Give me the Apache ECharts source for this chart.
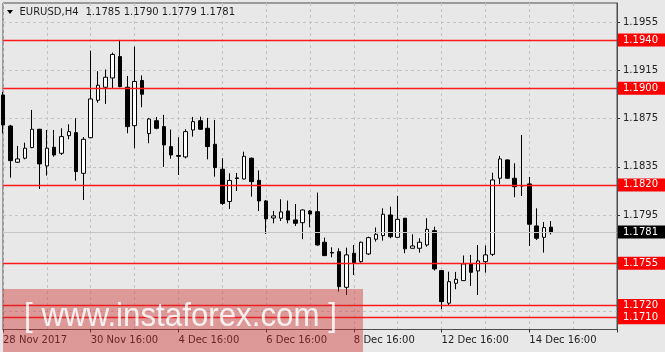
<!DOCTYPE html>
<html>
<head>
<meta charset="utf-8">
<script src="https://cdn.jsdelivr.net/npm/echarts@6.0.0/dist/echarts.min.js"></script>
<style>
html,body{margin:0;padding:0;background:#e8e8e8;}
#chart{width:665px;height:352px;}
</style>
</head>
<body>
<div id="chart"></div>
<script>
// ---------------- data ----------------
const symbolTitle = 'EURUSD,H4';
const lastQuote = [1.1785, 1.1790, 1.1779, 1.1781]; // O H L C of last bar
const xTickLabels = ['28 Nov 2017', '30 Nov 16:00', '4 Dec 16:00', '6 Dec 16:00', '8 Dec 16:00', '12 Dec 16:00', '14 Dec 16:00'];
const yTickValues = [1.1715, 1.1755, 1.1795, 1.1835, 1.1875, 1.1915, 1.1955];
const levels = [1.1940, 1.1900, 1.1820, 1.1755, 1.1720, 1.1710];
const slotCount = 85; // bars + empty chart shift on the right

const opens = [
1.18945,1.18688,1.18388,1.18421,1.18509,1.18661,1.18357,1.18512,1.18462,1.18608,
1.18633,1.18296,1.18591,1.18901,1.19009,1.19086,1.19263,1.19009,1.18691,1.19065,
1.18625,1.18732,1.18683,1.18517,1.18444,1.18432,1.18655,1.18732,1.18669,1.18537,
1.18330,1.18063,1.18258,1.18249,1.18421,1.18238,1.18067,1.17926,1.17924,1.17984,
1.17910,1.17887,1.17984,1.17978,1.17725,1.17640,1.17647,1.17352,1.17634,1.17564,
1.17628,1.17750,1.17780,1.17951,1.17766,1.17924,1.17675,1.17675,1.17702,1.17821,
1.17490,1.17220,1.17385,1.17407,1.17545,1.17487,1.17564,1.17625,1.18255,1.18407,
1.18255,1.18195,1.18208,1.17860,1.17766,1.17850
];
const highs = [
1.18970,1.18697,1.18523,1.18550,1.18821,1.18664,1.18655,1.18655,1.18669,1.18702,
1.18752,1.18597,1.19312,1.19142,1.19156,1.19296,1.19401,1.19103,1.19345,1.19107,
1.18755,1.18763,1.18780,1.18659,1.18595,1.18661,1.18763,1.18765,1.18755,1.18738,
1.18421,1.18296,1.18299,1.18475,1.18427,1.18320,1.18075,1.17984,1.18081,1.18070,
1.18042,1.17997,1.17992,1.18136,1.17763,1.17683,1.17675,1.17680,1.17702,1.17730,
1.17771,1.17847,1.18006,1.18020,1.18108,1.17926,1.17791,1.17758,1.17924,1.17854,
1.17495,1.17481,1.17479,1.17615,1.17620,1.17702,1.17698,1.18301,1.18440,1.18411,
1.18379,1.18614,1.18266,1.18006,1.17893,1.17900
];
const lows = [
1.18628,1.18260,1.18382,1.18412,1.18504,1.18166,1.18277,1.18434,1.18448,1.18578,
1.18235,1.18075,1.18586,1.18881,1.18871,1.19003,1.19009,1.18628,1.18504,1.18843,
1.18545,1.18661,1.18349,1.18417,1.18282,1.18420,1.18600,1.18655,1.18412,1.18268,
1.18034,1.18001,1.18150,1.18245,1.18103,1.17984,1.17794,1.17882,1.17901,1.17882,
1.17860,1.17750,1.17849,1.17697,1.17611,1.17600,1.17316,1.17288,1.17454,1.17556,
1.17620,1.17730,1.17738,1.17758,1.17765,1.17634,1.17673,1.17639,1.17688,1.17490,
1.17170,1.17205,1.17335,1.17404,1.17363,1.17288,1.17473,1.17611,1.18205,1.18252,
1.18098,1.18108,1.17694,1.17744,1.17639,1.17790
];
const closes = [
1.18697,1.18401,1.18415,1.18504,1.18661,1.18374,1.18504,1.18448,1.18600,1.18641,
1.18310,1.18578,1.18912,1.19026,1.19092,1.19281,1.19014,1.18683,1.19057,1.18951,
1.18746,1.18669,1.18531,1.18448,1.18437,1.18641,1.18724,1.18661,1.18517,1.18343,
1.18046,1.18237,1.18253,1.18437,1.18227,1.18067,1.17918,1.17943,1.17976,1.17910,
1.17882,1.17992,1.17959,1.17702,1.17614,1.17636,1.17357,1.17620,1.17556,1.17725,
1.17763,1.17791,1.17957,1.17771,1.17915,1.17670,1.17694,1.17725,1.17832,1.17504,
1.17233,1.17398,1.17418,1.17545,1.17476,1.17570,1.17620,1.18241,1.18415,1.18255,
1.18185,1.18191,1.17874,1.17758,1.17846,1.17810
];

// ---------------- chart ----------------
const FONT = 'DejaVu Sans';
const categories = Array.from({length: slotCount}, (_, i) => String(i));
const candleData = opens.map((o, i) => [o, closes[i], lows[i], highs[i]]);

const chart = echarts.init(document.getElementById('chart'), null, {renderer: 'canvas'});

const option = {
  animation: false,
  backgroundColor: '#e8e8e8',
  grid: {
    left: 3, right: 48, top: 3, bottom: 22.5,
    show: true, borderColor: '#4d4d4d', borderWidth: 1, backgroundColor: '#e8e8e8'
  },
  xAxis: {
    type: 'category',
    data: categories,
    boundaryGap: false,
    axisLine: {show: true, lineStyle: {color: '#4d4d4d', width: 1}},
    axisTick: {show: true, interval: 11, length: 3, lineStyle: {color: '#333'}},
    axisLabel: {
      interval: 11, align: 'left', margin: 6,
      color: '#222', fontSize: 10, fontFamily: FONT,
      formatter: (v, idx) => xTickLabels[idx / 12] || ''
    },
    splitLine: {show: true, interval: 5, lineStyle: {color: '#c4c4c4', type: [3, 3], width: 1}}
  },
  yAxis: {
    type: 'value',
    position: 'right',
    min: 1.17002, max: 1.19707,
    scale: true,
    axisLine: {show: true, lineStyle: {color: '#4d4d4d', width: 1}},
    axisTick: {show: true, length: 3, customValues: yTickValues, lineStyle: {color: '#333'}},
    axisLabel: {
      customValues: yTickValues, margin: 6,
      color: '#222', fontSize: 10, fontFamily: FONT,
      formatter: v => Number(v).toFixed(4)
    },
    splitLine: {show: true, lineStyle: {color: '#c4c4c4', type: [3, 3], width: 1}}
  },
  series: [{
    type: 'candlestick',
    data: candleData,
    barWidth: 4,
    clip: true,
    itemStyle: {
      color: '#ffffff', color0: '#000000',
      borderColor: '#000000', borderColor0: '#000000', borderWidth: 1
    },
    markLine: {
      silent: true,
      animation: false,
      symbol: ['none', 'none'],
      precision: 4,
      label: {
        show: true, position: 'end', distance: 1,
        formatter: p => Number(p.value).toFixed(4),
        color: '#ffffff', fontSize: 10, fontFamily: FONT,
        padding: [1, 9, 1, 5], lineHeight: 11
      },
      data: [
        {yAxis: lastQuote[3], lineStyle: {color: '#c6c6c6', width: 1, type: 'solid'}, label: {backgroundColor: '#000000'}},
        ...levels.map(v => ({yAxis: v, lineStyle: {color: '#ff1a1a', width: 1.3, type: 'solid'}, label: {backgroundColor: '#ff0000'}}))
      ]
    }
  }],
  graphic: [
    {type: 'polygon', z: 50, shape: {points: [[7, 10], [13, 10], [10, 14]]}, style: {fill: '#000'}},
    {type: 'text', z: 50, style: {x: 19.5, y: 12.5, text: symbolTitle, fill: '#1e1e1e', font: '10px "DejaVu Sans"', verticalAlign: 'middle'}},
    {type: 'text', z: 50, style: {x: 85.5, y: 12.5, text: lastQuote.map(v => v.toFixed(4)).join(' '), fill: '#1e1e1e', font: '10px "DejaVu Sans"', verticalAlign: 'middle'}},
    {type: 'rect', z: 100, shape: {x: 3, y: 289, width: 360, height: 63}, style: {fill: 'rgba(205,40,40,0.42)'}},
    {type: 'text', z: 101, x: 24, y: 317, scaleX: 0.92, style: {x: 0, y: 0, text: '[ www.instaforex.com ]', fill: 'rgba(255,255,255,0.85)', font: '34px "Liberation Sans"', verticalAlign: 'middle'}}
  ]
};
chart.setOption(option);
</script>
</body>
</html>
